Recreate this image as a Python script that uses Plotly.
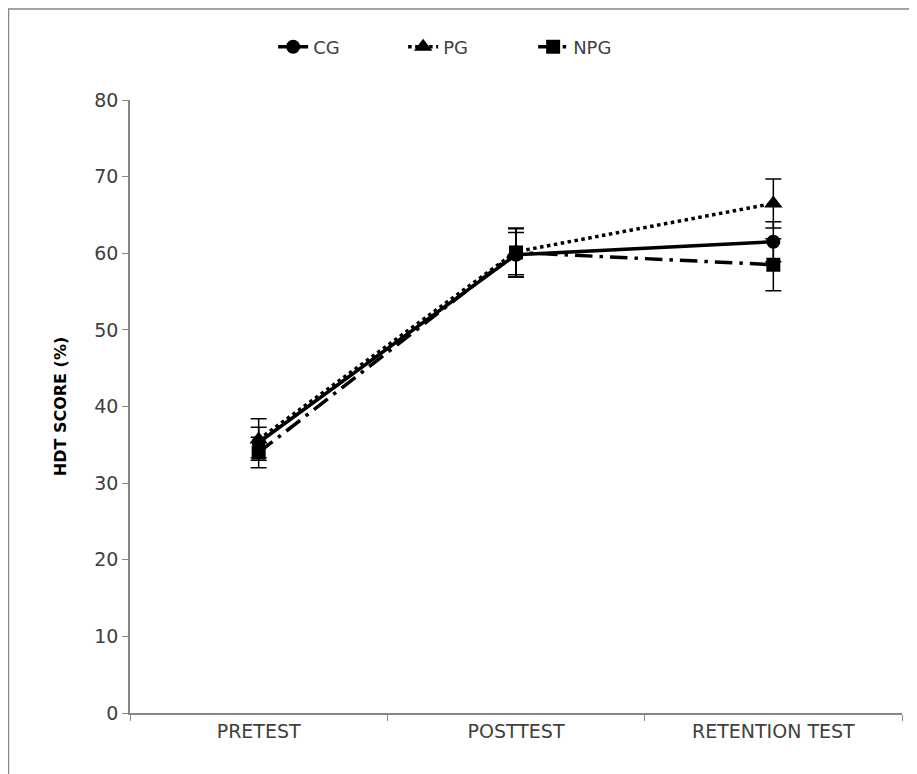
import plotly.graph_objects as go

categories = ["PRETEST", "POSTTEST", "RETENTION TEST"]
cg = [35.3, 59.8, 61.5]
cg_err = [2.0, 2.9, 2.6]
pg = [35.7, 60.2, 66.5]
pg_err = [2.7, 3.0, 3.2]
npg = [34.0, 60.1, 58.5]
npg_err = [2.0, 3.2, 3.4]
y_ticks = [0, 10, 20, 30, 40, 50, 60, 70, 80]

FONT = "DejaVu Sans"
TXT = "#404040"

def err(vals):
    return dict(type="data", array=vals, visible=True, color="black",
                thickness=1.5, width=8)

fig = go.Figure()
fig.add_trace(go.Scatter(
    x=categories, y=cg, name="CG", mode="lines+markers",
    line=dict(color="black", width=3.5, dash="solid"),
    marker=dict(symbol="circle", size=14, color="black"),
    error_y=err(cg_err)))
fig.add_trace(go.Scatter(
    x=categories, y=pg, name="PG", mode="lines+markers",
    line=dict(color="black", width=3.5, dash="dot"),
    marker=dict(symbol="triangle-up", size=16, color="black"),
    error_y=err(pg_err)))
fig.add_trace(go.Scatter(
    x=categories, y=npg, name="NPG", mode="lines+markers",
    line=dict(color="black", width=3.5, dash="longdashdot"),
    marker=dict(symbol="square", size=14, color="black"),
    error_y=err(npg_err)))

fig.update_layout(
    width=909, height=766,
    margin=dict(l=122, r=15, t=92, b=61),
    paper_bgcolor="white", plot_bgcolor="white",
    font=dict(family=FONT, color=TXT, size=19),
    showlegend=True,
    legend=dict(orientation="h", x=0.438, xanchor="center", y=1.0865,
                yanchor="middle", font=dict(size=18, color=TXT),
                entrywidth=85, entrywidthmode="pixels",
                traceorder="normal"),
    xaxis=dict(type="category", range=[-0.5, 2.5], showline=True,
               linecolor="#868686", linewidth=1.5, ticks="outside",
               tickson="boundaries", ticklen=6, tickcolor="#868686",
               showgrid=False, zeroline=False,
               tickfont=dict(size=19, color=TXT, family=FONT)),
    yaxis=dict(range=[0, 80], tickvals=y_ticks, showline=True,
               linecolor="#868686", linewidth=1.5, ticks="outside",
               ticklen=6, tickcolor="#868686", showgrid=False,
               zeroline=False,
               tickfont=dict(size=19, color=TXT, family=FONT),
               title=dict(text="<b>HDT SCORE (%)</b>",
                          font=dict(size=16, color="black", family=FONT),
                          standoff=24)),
    shapes=[dict(type="rect", xref="paper", yref="paper",
                 x0=-0.1574, x1=1.05, y0=-0.15, y1=1.1485,
                 line=dict(color="#868686", width=1.5), layer="below")],
)

fig.write_html("out.html")
